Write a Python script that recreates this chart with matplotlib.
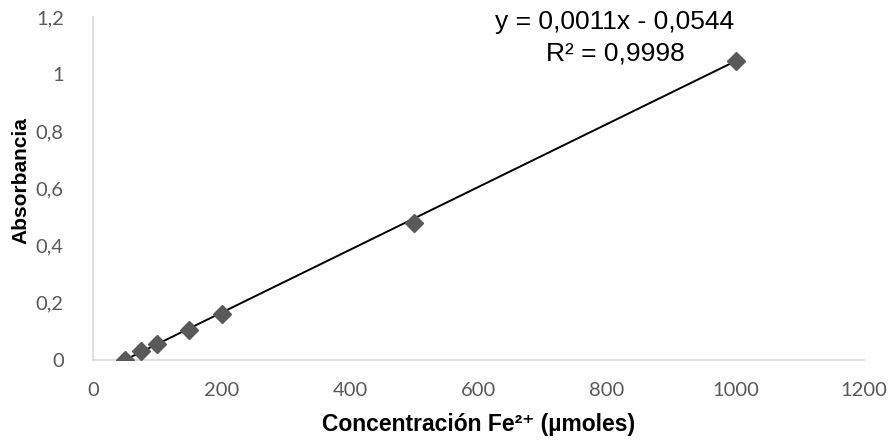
import matplotlib.pyplot as plt
import numpy as np

# calibration data
concentracion = [50, 75, 100, 150, 200, 500, 1000]
absorbancia = [0.0, 0.03, 0.055, 0.105, 0.16, 0.48, 1.045]

x_ticks = [0, 200, 400, 600, 800, 1000, 1200]
y_ticks = [0, 0.2, 0.4, 0.6, 0.8, 1.0, 1.2]
y_labels = ['0', '0,2', '0,4', '0,6', '0,8', '1', '1,2']

pendiente = 0.0011
intercepto = -0.0544

W, H = 896, 445
fig = plt.figure(figsize=(W / 100, H / 100), dpi=100)
ax = fig.add_axes([93 / W, 1 - 360 / H, (864 - 93) / W, (360 - 17) / H])

# trendline
xl = np.array([min(concentracion), max(concentracion)])
ax.plot(xl, pendiente * xl + intercepto, color='black', lw=1.4, zorder=2)

ax.plot(concentracion, absorbancia, linestyle='none', marker='D',
        markersize=9, color='#595959', zorder=3)

ax.set_xlim(0, 1200)
ax.set_ylim(0, 1.2)
ax.set_xticks(x_ticks)
ax.set_xticklabels([str(v) for v in x_ticks], family='Lato')
ax.set_yticks(y_ticks)
ax.set_yticklabels(y_labels, family='Lato')
ax.tick_params(length=0, labelsize=14.5, labelcolor='#595959')
ax.tick_params(axis='x', pad=16)
ax.tick_params(axis='y', pad=21)

for s in ['top', 'right']:
    ax.spines[s].set_visible(False)
for s in ['left', 'bottom']:
    ax.spines[s].set_color('#d9d9d9')
    ax.spines[s].set_linewidth(1.2)

fam = ['Liberation Sans', 'DejaVu Sans']
fig.text(479 / W, 1 - 425 / H, 'Concentración Fe²⁺ (µmoles)', ha='center', va='center',
         fontsize=16.5, fontweight='bold', family=fam)
fig.text(21 / W, 1 - 181 / H, 'Absorbancia', ha='center', va='center', rotation=90,
         fontsize=15, fontweight='bold', family=fam)

fig.text(615 / W, 1 - 22 / H, 'y = 0,0011x - 0,0544', ha='center', va='center',
         fontsize=19, family=fam)
fig.text(615 / W, 1 - 53 / H, 'R² = 0,9998', ha='center', va='center',
         fontsize=19, family=fam)

fig.savefig('out.png', dpi=100)
